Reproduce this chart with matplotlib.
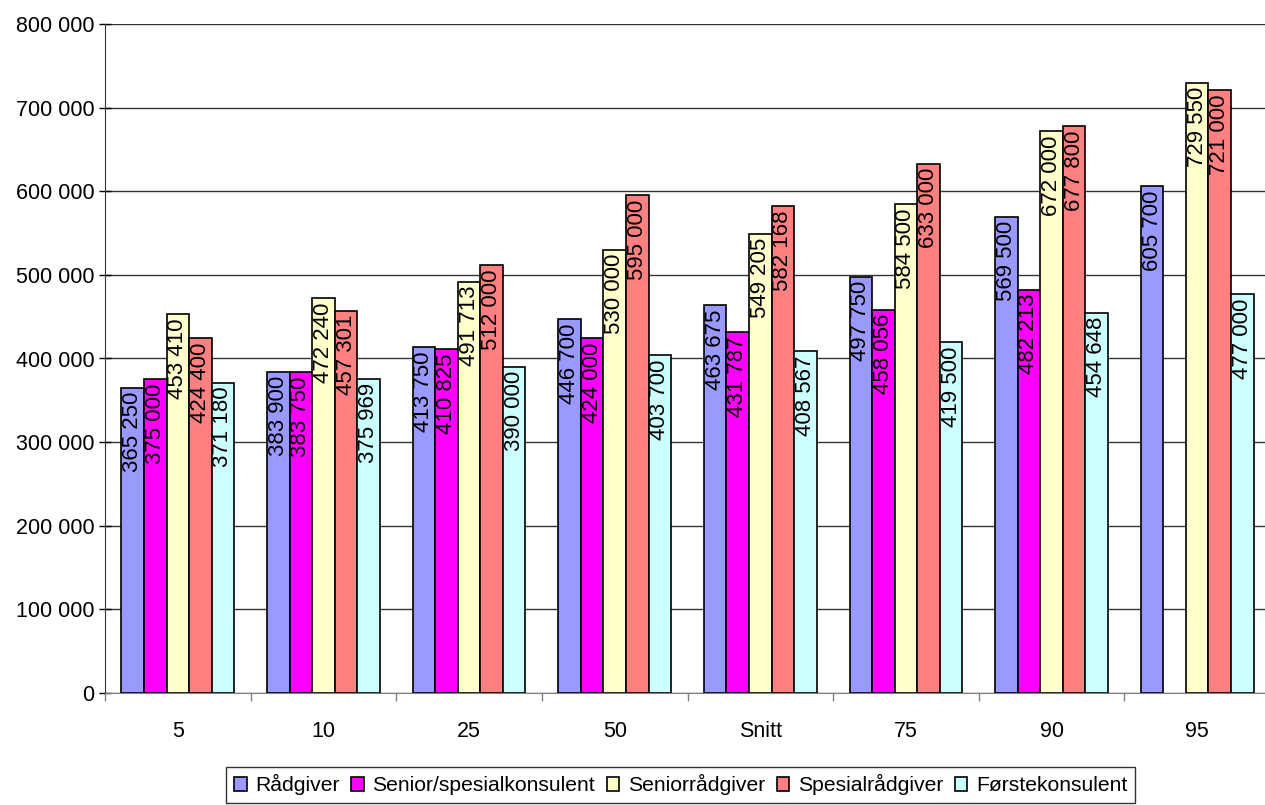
import numpy as np
import matplotlib.pyplot as plt
from matplotlib.ticker import FuncFormatter

plt.rcParams['font.family'] = ['Liberation Sans', 'DejaVu Sans']

categories = ["5", "10", "25", "50", "Snitt", "75", "90", "95"]
series = ["Rådgiver", "Senior/spesialkonsulent", "Seniorrådgiver",
          "Spesialrådgiver", "Førstekonsulent"]

raadgiver = [365250, 383900, 413750, 446700, 463675, 497750, 569500, 605700]
senior_spes = [375000, 383750, 410825, 424000, 431787, 458056, 482213, np.nan]
seniorraadgiver = [453410, 472240, 491713, 530000, 549205, 584500, 672000, 729550]
spesialraadgiver = [424400, 457301, 512000, 595000, 582168, 633000, 677800, 721000]
forstekonsulent = [371180, 375969, 390000, 403700, 408567, 419500, 454648, 477000]

values = [raadgiver, senior_spes, seniorraadgiver, spesialraadgiver, forstekonsulent]
colors = ["#9999FF", "#FF00FF", "#FFFFCC", "#FF8080", "#CCFFFF"]


def fmt(v, pos=None):
    return "{:,.0f}".format(v).replace(",", " ")


fig = plt.figure(figsize=(12.65, 8.05), dpi=100)
ax = fig.add_axes([105/1265, 112/805, 1165/1265, 669/805])

x = np.arange(len(categories))
w = 0.155
for i, (name, vals, c) in enumerate(zip(series, values, colors)):
    pos = x + (i - 2) * w
    vals = np.array(vals, dtype=float)
    ok = ~np.isnan(vals)
    ax.bar(pos[ok], vals[ok], width=w, color=c, edgecolor="black",
           linewidth=1.2, label=name, zorder=3)
    for px, v in zip(pos[ok], vals[ok]):
        ax.annotate(fmt(v), (px, v), xytext=(0, -3), textcoords="offset points",
                    rotation=90, ha="center", va="top", fontsize=16, zorder=4)

ax.set_xlim(-0.5, len(categories) - 0.5)
ax.set_ylim(0, 800000)
ax.set_yticks(np.arange(0, 800001, 100000))
ax.yaxis.set_major_formatter(FuncFormatter(fmt))
ax.grid(axis="y", color="#333333", linewidth=1, zorder=0)

ax.set_xticks(x)
ax.set_xticklabels(categories)
ax.set_xticks(np.arange(-0.5, len(categories), 1), minor=True)
ax.tick_params(axis="x", which="major", length=0, pad=20, labelsize=15.5)
ax.tick_params(axis="x", which="minor", length=6, color="#808080", width=1)
ax.tick_params(axis="y", direction="inout", length=9, width=1, labelsize=15.5, pad=3)

for s in ["top", "right"]:
    ax.spines[s].set_visible(False)
ax.spines["left"].set_color("#333333")
ax.spines["bottom"].set_color("#808080")

leg = ax.legend(loc="lower center", bbox_to_anchor=(0.494, -0.18), ncol=5,
                fontsize=15.2, frameon=True, fancybox=False, edgecolor="black",
                handlelength=0.6, handleheight=0.6, handletextpad=0.4,
                columnspacing=0.55, borderpad=0.35)
leg.get_frame().set_linewidth(1)

fig.savefig("out.png", dpi=100)
